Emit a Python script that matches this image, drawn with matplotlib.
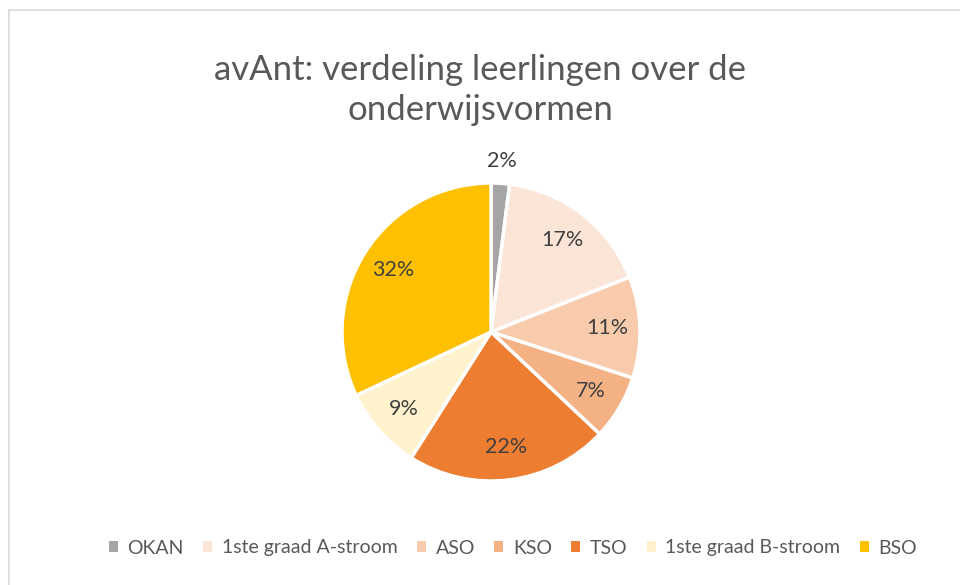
import matplotlib
matplotlib.use("Agg")
import matplotlib.pyplot as plt
import numpy as np
from matplotlib.patches import Patch
from matplotlib.lines import Line2D

categories = ["OKAN", "1ste graad A-stroom", "ASO", "KSO", "TSO", "1ste graad B-stroom", "BSO"]
values = [2, 17, 11, 7, 22, 9, 32]
labels = ["2%", "17%", "11%", "7%", "22%", "9%", "32%"]
colors = ["#A5A5A5", "#FBE5D6", "#F8CBAD", "#F4B183", "#ED7D31", "#FFF2CC", "#FFC000"]
title = "avAnt: verdeling leerlingen over de\nonderwijsvormen"

plt.rcParams['font.family'] = ['Lato', 'DejaVu Sans']

W, H = 960, 585
fig = plt.figure(figsize=(W / 100, H / 100), dpi=100)

# frame lines (top + left, light gray)
fig.add_artist(Line2D([9 / W, 1], [1 - 10 / H, 1 - 10 / H], color="#D9D9D9", lw=1.2))
fig.add_artist(Line2D([9 / W, 9 / W], [0, 1 - 10 / H], color="#D9D9D9", lw=1.2))

cx, cy, r = 491, 332, 149
ax = fig.add_axes([(cx - r) / W, (H - cy - r) / H, 2 * r / W, 2 * r / H])
wedges, _ = ax.pie(values, colors=colors, startangle=90, counterclock=False,
                   wedgeprops=dict(edgecolor="white", linewidth=2.5))
ax.set_xlim(-1, 1)
ax.set_ylim(-1, 1)
ax.set_aspect("equal")
ax.axis("off")

for i, (w, lab) in enumerate(zip(wedges, labels)):
    ang = np.deg2rad((w.theta1 + w.theta2) / 2)
    d = 1.15 if i == 0 else 0.78
    ax.text(d * np.cos(ang), d * np.sin(ang), lab, ha="center", va="center",
            fontsize=15.5, color="#404040", clip_on=False)

fig.text(0.5, 1 - 90 / H, title, ha="center", va="center", fontsize=25,
         color="#595959", linespacing=1.32)

handles = [Patch(facecolor=c, edgecolor="none") for c in colors]
fig.legend(handles, categories, loc="center", bbox_to_anchor=(513 / W, 1 - 548 / H),
           ncol=7, frameon=False, fontsize=14, labelcolor="#595959",
           handlelength=0.45, handleheight=0.45, handletextpad=0.5, columnspacing=1.0)

fig.savefig("out.png", dpi=100)
